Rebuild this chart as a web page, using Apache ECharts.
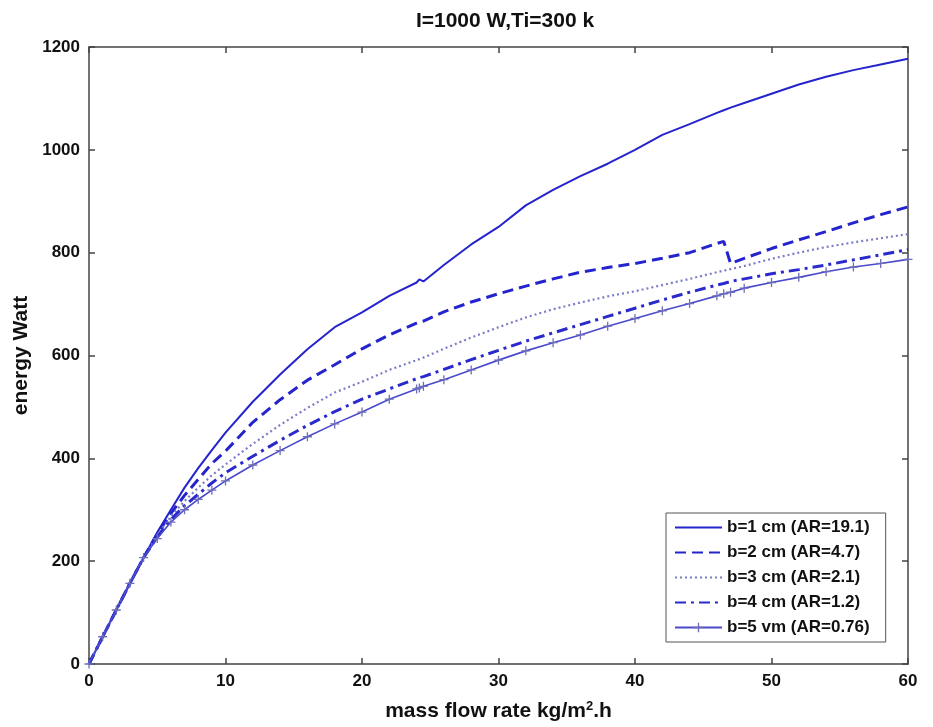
<!DOCTYPE html>
<html>
<head>
<meta charset="utf-8">
<script src="https://cdn.jsdelivr.net/npm/echarts@6/dist/echarts.min.js"></script>
<style>
html,body{margin:0;padding:0;background:#fff;}
#chart{width:933px;height:727px;}
</style>
</head>
<body>
<div id="chart"></div>
<script>
// mass flow rate (kg/m^2.h)
const massFlow = [0,1,2,3,4,5,6,7,8,9,10,12,14,16,18,20,22,24,24.2,24.5,26,28,30,32,34,36,38,40,42,44,46,46.5,47,48,50,52,54,56,58,60];
// energy (W)
const b1 = [0,53,105,157,207,256,300,343,381,416,450,510,563,612,655,684,716,742,748,744,776,816,850,892,922,949,973,1000,1029,1050,1072,1077,1082,1091,1109,1127,1142,1155,1166,1177];
const b2 = [0,53,105,157,207,253,293,328,359,390,414,470,514,552,582,613,640,663,665,667,685,704,720,735,749,762,771,779,789,800,818,822,779,789,808,825,841,858,874,889];
const b3 = [0,53,105,157,207,250,287,317,343,367,388,428,465,498,528,549,572,591,593,596,613,635,655,674,690,703,715,725,737,749,762,765,768,774,788,800,811,820,828,836];
const b4 = [0,53,105,157,207,247,281,308,330,352,372,404,435,464,491,515,535,555,557,559,573,592,610,628,644,660,676,692,708,723,737,740,744,749,759,767,776,786,796,806];
const b5 = [0,53,105,157,207,244,276,300,320,338,356,387,415,442,467,490,515,535,537,540,553,572,591,609,625,640,657,672,687,701,716,720,723,731,742,752,763,772,779,787];
const seriesNames = ['b=1 cm (AR=19.1)','b=2 cm (AR=4.7)','b=3 cm (AR=2.1)','b=4 cm (AR=1.2)','b=5 vm (AR=0.76)'];
const titleText = 'I=1000 W,Ti=300 k';
const xTicks = [0,10,20,30,40,50,60];
const yTicks = [0,200,400,600,800,1000,1200];

const pairs = arr => massFlow.map((x,i)=>[x,arr[i]]);
const FONT = '"Liberation Sans", Arial, sans-serif';
const axisCol = '#444';
const PLUS = 'path://M0,5L10,5M5,0L5,10';

const chart = echarts.init(document.getElementById('chart'), null, {renderer:'canvas'});
const baseX = {
  type:'value', min:xTicks[0], max:xTicks[xTicks.length-1], interval:10,
  splitLine:{show:false},
  axisLine:{show:true, onZero:false, lineStyle:{color:axisCol, width:1.5}},
  axisTick:{show:true, inside:true, length:6, lineStyle:{color:axisCol, width:1.5}},
};
const baseY = {
  type:'value', min:yTicks[0], max:yTicks[yTicks.length-1], interval:200,
  splitLine:{show:false},
  axisLine:{show:true, onZero:false, lineStyle:{color:axisCol, width:1.5}},
  axisTick:{show:true, inside:true, length:6, lineStyle:{color:axisCol, width:1.5}},
};
chart.setOption({
  animation:false,
  backgroundColor:'#fff',
  title:{text:titleText, left:500, top:6, textAlign:'center',
    textStyle:{fontFamily:FONT, fontWeight:'bold', fontSize:21, color:'#111'}},
  grid:{left:89, right:25, top:47, bottom:62},
  legend:{
    orient:'vertical', left:666, top:513,
    backgroundColor:'#fff', borderColor:'#555', borderWidth:1,
    padding:[6,16,6,8], itemWidth:47, itemHeight:12, itemGap:8,
    itemStyle:{opacity:0},
    textStyle:{fontFamily:FONT, fontWeight:'bold', fontSize:17, color:'#111'},
    data:[
      {name:seriesNames[0]},
      {name:seriesNames[1]},
      {name:seriesNames[2]},
      {name:seriesNames[3]},
      {name:seriesNames[4], itemStyle:{opacity:1, color:'none', borderColor:'#6d6db8', borderWidth:1.3}}
    ]
  },
  xAxis:[
    Object.assign({}, baseX, {position:'bottom',
      axisLabel:{fontFamily:FONT, fontWeight:'bold', fontSize:17, color:'#111', margin:9},
      name:'mass flow rate kg/m{sup|2}.h', nameLocation:'middle', nameGap:36,
      nameTextStyle:{fontFamily:FONT, fontWeight:'bold', fontSize:21, color:'#111',
        rich:{sup:{fontFamily:FONT, fontWeight:'bold', fontSize:13, color:'#111', verticalAlign:'top', padding:[0,0,10,0]}}}
    }),
    Object.assign({}, baseX, {position:'top', axisLabel:{show:false}})
  ],
  yAxis:[
    Object.assign({}, baseY, {position:'left',
      axisLabel:{fontFamily:FONT, fontWeight:'bold', fontSize:17, color:'#111', margin:9,
        formatter:v=>String(v)},
      name:'energy Watt', nameLocation:'middle', nameGap:55,
      nameTextStyle:{fontFamily:FONT, fontWeight:'bold', fontSize:21, color:'#111'}
    }),
    Object.assign({}, baseY, {position:'right', axisLabel:{show:false}})
  ],
  series:[
    {name:seriesNames[0], type:'line', data:pairs(b1), symbol:'none',
      lineStyle:{color:'#2424cc', width:2}, itemStyle:{color:'#2424cc'}},
    {name:seriesNames[1], type:'line', data:pairs(b2), symbol:'none',
      lineStyle:{color:'#2424cc', width:3, type:[11,6]}, itemStyle:{color:'#2424cc'}},
    {name:seriesNames[2], type:'line', data:pairs(b3), symbol:'none',
      lineStyle:{color:'#7b7bc8', width:2.2, type:[2,3]}, itemStyle:{color:'#7b7bc8'}},
    {name:seriesNames[3], type:'line', data:pairs(b4), symbol:'none',
      lineStyle:{color:'#2a2acc', width:3, type:[11,5,3,5]}, itemStyle:{color:'#2a2acc'}},
    {name:seriesNames[4], type:'line', data:pairs(b5),
      symbol:PLUS, symbolSize:9, showAllSymbol:true,
      lineStyle:{color:'#4a4acc', width:1.6},
      itemStyle:{color:'none', borderColor:'#6d6db8', borderWidth:1.3}}
  ]
});
</script>
</body>
</html>
